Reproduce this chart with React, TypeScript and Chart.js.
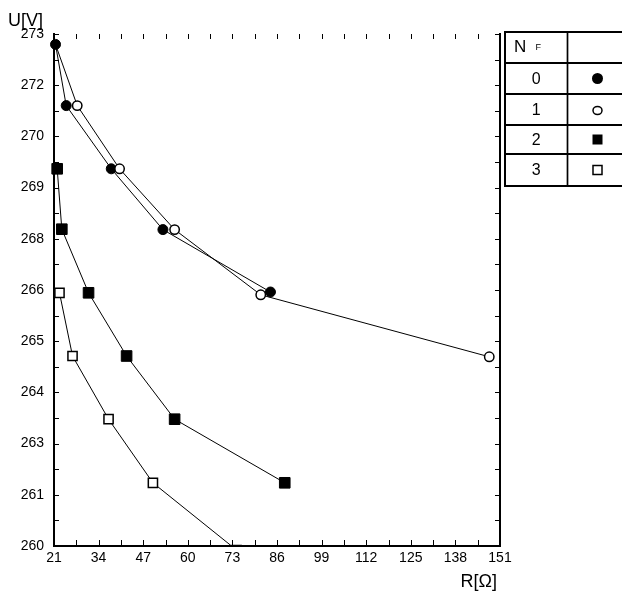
import React, { useEffect, useRef } from 'react';
import { Chart, registerables } from 'chart.js';

Chart.register(...registerables);

// ---- data ----
const seriesNames = ['0', '1', '2', '3'];
const s0X = [21.44, 24.56, 37.69, 52.75, 84.09];
const s0Y = [272.54, 271.01, 269.43, 267.91, 266.35];
const s1X = [21.44, 27.77, 40.11, 56.16, 81.26, 147.87];
const s1Y = [272.54, 271.01, 269.43, 267.91, 266.28, 264.73];
const s2X = [21.93, 23.28, 31.07, 42.16, 56.16, 88.26];
const s2Y = [269.43, 267.92, 266.33, 264.75, 263.17, 261.58];
const s3X = [22.6, 26.4, 36.9, 49.83, 74.2];
const s3Y = [266.33, 264.75, 263.17, 261.58, 259.9];

const xTickValues = [21, 34, 47, 60, 73, 86, 99, 112, 125, 138, 151];
const yTickValues = [260, 261.28, 262.56, 263.84, 265.12, 266.4, 267.68, 268.96, 270.24, 271.52, 272.8];
const yTickLabels = ['260', '261', '263', '264', '265', '266', '268', '269', '270', '272', '273'];

const xTitle = 'R[Ω]';
const yTitle = 'U[V]';
const legendHeader = 'N';
const legendHeaderSub = 'F';

const FONT = 'Arial, "Liberation Sans", sans-serif';

const pts = (xs: number[], ys: number[]) => xs.map((x, i) => ({ x, y: ys[i] }));

const midValues = (vals: number[]) => {
  const out: number[] = [];
  for (let i = 0; i < vals.length - 1; i++) out.push((vals[i] + vals[i + 1]) / 2);
  return out;
};

const axesPlugin = {
  id: 'axesFrame',
  beforeDatasetsDraw(chart: any) {
    const ctx = chart.ctx;
    const { left, right, top, bottom } = chart.chartArea;
    const xs = chart.scales.x;
    const ys = chart.scales.y;
    ctx.save();
    ctx.strokeStyle = '#000';
    ctx.lineWidth = 1;
    const xv = [...xTickValues, ...midValues(xTickValues)];
    const yv = [...yTickValues, ...midValues(yTickValues)];
    ctx.beginPath();
    xv.forEach((v) => {
      const p = Math.round(xs.getPixelForValue(v)) + 0.5;
      ctx.moveTo(p, bottom);
      ctx.lineTo(p, bottom - 6);
      ctx.moveTo(p, top);
      ctx.lineTo(p, top + 5);
    });
    yv.forEach((v) => {
      const p = Math.round(ys.getPixelForValue(v)) + 0.5;
      ctx.moveTo(left, p);
      ctx.lineTo(left + 5, p);
      ctx.moveTo(right, p);
      ctx.lineTo(right - 5, p);
    });
    ctx.stroke();
    ctx.lineWidth = 2;
    ctx.beginPath();
    ctx.moveTo(left, top - 1);
    ctx.lineTo(left, bottom);
    ctx.lineTo(right, bottom);
    ctx.lineTo(right, top - 1);
    ctx.stroke();
    ctx.restore();
  },
};

const decorPlugin = {
  id: 'decor',
  afterDraw(chart: any) {
    const ctx = chart.ctx;
    ctx.save();
    ctx.fillStyle = '#000';
    ctx.strokeStyle = '#000';
    // titles
    ctx.font = `18px ${FONT}`;
    ctx.textAlign = 'left';
    ctx.textBaseline = 'alphabetic';
    ctx.fillText(yTitle, 8, 26);
    ctx.textAlign = 'right';
    ctx.fillText(xTitle, 497, 587);

    // legend table
    const tl = 505;
    const tc = 567.5;
    const tr = 640;
    const rows = [32, 63, 94, 125, 154, 186];
    ctx.lineWidth = 2;
    ctx.beginPath();
    rows.forEach((y) => {
      ctx.moveTo(tl - 1, y);
      ctx.lineTo(tr, y);
    });
    ctx.moveTo(tl, rows[0]);
    ctx.lineTo(tl, rows[rows.length - 1]);
    ctx.stroke();
    ctx.lineWidth = 1.7;
    ctx.beginPath();
    ctx.moveTo(tc, rows[0]);
    ctx.lineTo(tc, rows[rows.length - 1]);
    ctx.stroke();

    ctx.textBaseline = 'alphabetic';
    ctx.textAlign = 'left';
    ctx.font = `17px ${FONT}`;
    ctx.fillText(legendHeader, 514, 52);
    ctx.font = `9px ${FONT}`;
    ctx.fillText(legendHeaderSub, 535.5, 50);

    const colC = (tl + tc) / 2;
    const mx = 597.5;
    ctx.font = `16px ${FONT}`;
    ctx.textAlign = 'center';
    ctx.textBaseline = 'middle';
    seriesNames.forEach((name, i) => {
      const cy = (rows[i + 1] + rows[i + 2]) / 2;
      ctx.fillText(name, colC, cy + 1);
      ctx.lineWidth = 1.5;
      if (i === 0) {
        ctx.beginPath();
        ctx.arc(mx, cy, 5.5, 0, Math.PI * 2);
        ctx.fill();
      } else if (i === 1) {
        ctx.beginPath();
        ctx.ellipse(mx, cy + 1, 4.5, 4, 0, 0, Math.PI * 2);
        ctx.stroke();
      } else if (i === 2) {
        ctx.fillRect(mx - 5, cy - 5, 10, 10);
      } else {
        ctx.strokeRect(mx - 4.5, cy - 4.5, 9, 9);
      }
    });
    ctx.restore();
  },
};

export default function App() {
  const canvasRef = useRef<HTMLCanvasElement | null>(null);

  useEffect(() => {
    const canvas = canvasRef.current;
    if (!canvas) return;
    const common = {
      showLine: true,
      borderColor: '#000',
      borderWidth: 1,
      pointBorderColor: '#000',
      fill: false,
      tension: 0,
    };
    const chart = new Chart(canvas, {
      type: 'scatter',
      data: {
        datasets: [
          {
            ...common,
            label: seriesNames[0],
            data: pts(s0X, s0Y),
            pointStyle: 'circle',
            pointRadius: 5,
            pointBackgroundColor: '#000',
            pointBorderWidth: 1,
            order: 1,
            clip: false,
          },
          {
            ...common,
            label: seriesNames[1],
            data: pts(s1X, s1Y),
            pointStyle: 'circle',
            pointRadius: s1X.map((_, i) => (i === 0 ? 0 : 4.7)),
            pointBackgroundColor: '#fff',
            pointBorderWidth: 1.5,
            order: 0,
            clip: false,
          },
          {
            ...common,
            label: seriesNames[2],
            data: pts(s2X, s2Y),
            pointStyle: 'rect',
            pointRadius: 7.5,
            pointBackgroundColor: '#000',
            pointBorderWidth: 1,
            order: 2,
            clip: false,
          },
          {
            ...common,
            label: seriesNames[3],
            data: pts(s3X, s3Y),
            pointStyle: 'rect',
            pointRadius: 6.5,
            pointBackgroundColor: '#fff',
            pointBorderWidth: 1.5,
            order: 3,
            clip: { left: false, top: false, right: false, bottom: 0 } as any,
          },
        ],
      },
      options: {
        animation: false,
        responsive: false,
        devicePixelRatio: 1,
        layout: { padding: { left: 0, top: 34, right: 122, bottom: 0 } },
        plugins: {
          legend: { display: false },
          tooltip: { enabled: false },
          title: { display: false },
        },
        scales: {
          x: {
            type: 'linear',
            min: 21,
            max: 151,
            grid: { display: false, drawTicks: false },
            border: { display: false },
            afterBuildTicks: (s: any) => {
              s.ticks = xTickValues.map((v) => ({ value: v }));
            },
            afterFit: (s: any) => {
              s.height = 48;
            },
            ticks: {
              color: '#000',
              padding: 4,
              maxRotation: 0,
              autoSkip: false,
              font: { family: FONT, size: 14 },
              callback: (v: any) => String(v),
            },
          },
          y: {
            type: 'linear',
            min: 260,
            max: 272.8,
            grid: { display: false, drawTicks: false },
            border: { display: false },
            afterBuildTicks: (s: any) => {
              s.ticks = yTickValues.map((v) => ({ value: v }));
            },
            afterFit: (s: any) => {
              s.width = 54;
            },
            ticks: {
              color: '#000',
              padding: 10,
              autoSkip: false,
              font: { family: FONT, size: 14 },
              callback: (_v: any, i: number) => yTickLabels[i],
            },
          },
        },
      },
      plugins: [axesPlugin, decorPlugin],
    } as any);
    return () => chart.destroy();
  }, []);

  return (
    <div style={{ position: 'fixed', left: 0, top: 0, width: 622, height: 594, background: '#fff' }}>
      <canvas ref={canvasRef} width={622} height={594} style={{ display: 'block' }} />
    </div>
  );
}
